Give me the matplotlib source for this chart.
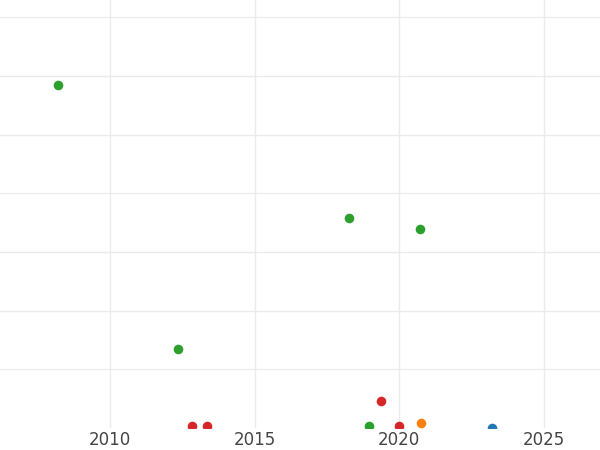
import matplotlib.pyplot as plt

# Points, grouped by colour
green_year = [2008.2, 2012.37, 2018.26, 2020.73, 2018.95]
green_val = [5.84, 1.35, 3.58, 3.39, 0.04]

red_year = [2012.82, 2013.35, 2019.37, 2019.99]
red_val = [0.04, 0.04, 0.46, 0.03]

orange_year = [2020.75]
orange_val = [0.08]

blue_year = [2023.22]
blue_val = [0.0]

year_ticks = [2010, 2015, 2020, 2025]

fig = plt.figure(figsize=(6, 4.5), dpi=100)
ax = fig.add_axes([0, 1 - 428 / 450, 1, 428 / 450])

ax.scatter(green_year, green_val, s=48, color='#2ca02c', zorder=3, linewidths=0)
ax.scatter(red_year, red_val, s=48, color='#d62728', zorder=3, linewidths=0)
ax.scatter(orange_year, orange_val, s=48, color='#ff7f0e', zorder=3, linewidths=0)
ax.scatter(blue_year, blue_val, s=48, color='#1f77b4', zorder=3, linewidths=0)

ax.set_xlim(2006.2, 2026.94)
ax.set_ylim(0, 428 / 58.7)

ax.set_xticks(year_ticks)
ax.set_yticks(range(1, 8))
ax.set_yticklabels([])
ax.tick_params(axis='x', length=0, labelsize=12, labelcolor='#444444', pad=2.5)
ax.tick_params(axis='y', length=0)
ax.grid(True, color='#ebebeb', linewidth=1.0)
ax.set_axisbelow(True)
for s in ax.spines.values():
    s.set_visible(False)

fig.savefig('out.png', dpi=100)
